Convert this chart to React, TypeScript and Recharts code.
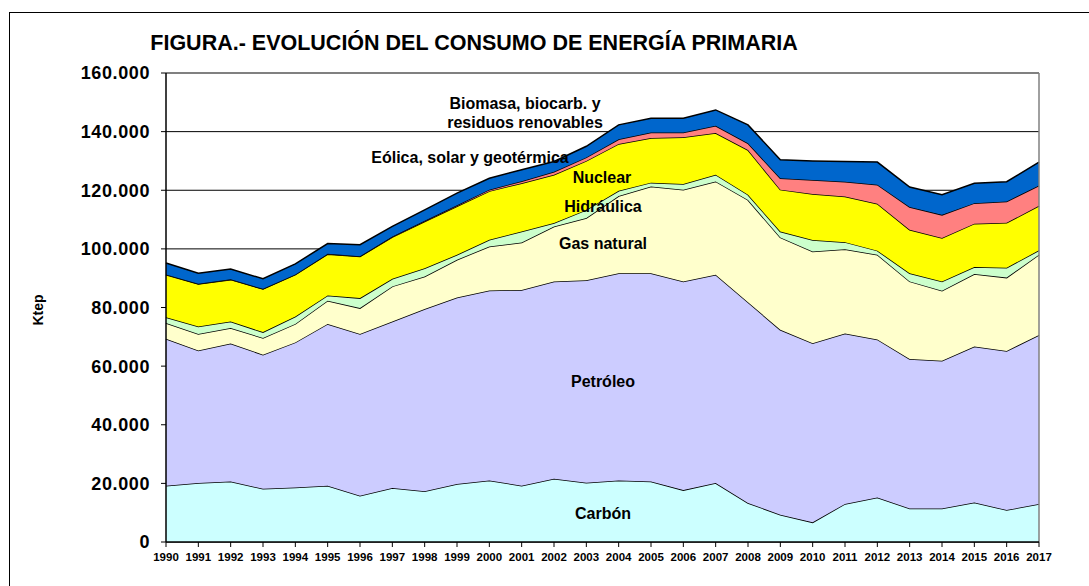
import React from 'react';
import { AreaChart, Area, XAxis, YAxis, CartesianGrid, ReferenceLine } from 'recharts';

// valores en ktep
const years = ['1990', '1991', '1992', '1993', '1994', '1995', '1996', '1997', '1998', '1999', '2000', '2001', '2002', '2003', '2004', '2005', '2006', '2007', '2008', '2009', '2010', '2011', '2012', '2013', '2014', '2015', '2016', '2017'];
const carbon = [19200, 20100, 20600, 18200, 18600, 19200, 15800, 18400, 17300, 19800, 21000, 19200, 21600, 20200, 21000, 20600, 17700, 20100, 13300, 9300, 6700, 13000, 15200, 11400, 11400, 13500, 10900, 13000];
const petroleo = [50100, 45200, 47100, 45700, 49500, 55200, 55200, 56800, 62200, 63600, 64800, 66800, 67300, 69100, 70700, 71100, 71200, 71100, 68500, 63100, 61100, 58100, 53900, 51000, 50400, 53200, 54300, 57600];
const gas = [5400, 5700, 5300, 5700, 6300, 7900, 8800, 12000, 11100, 12900, 15000, 16200, 18700, 21200, 26300, 29600, 31300, 31800, 34900, 31500, 31300, 28800, 28900, 26500, 23900, 24700, 25000, 27400];
const hidraulica = [2000, 2500, 2200, 2000, 2500, 1800, 3400, 2600, 2800, 1700, 2300, 3700, 1200, 2800, 1800, 1300, 1900, 2300, 1800, 2000, 3900, 2400, 1400, 2800, 3200, 2400, 3400, 1500];
const nuclear = [14500, 14500, 14300, 14700, 14300, 14100, 14200, 14200, 15900, 16500, 16600, 16500, 16500, 16700, 16000, 15200, 16000, 14200, 15200, 14300, 15700, 15600, 16000, 14800, 14800, 14800, 15300, 15200];
const eolica = [100, 100, 100, 100, 100, 100, 100, 200, 300, 400, 500, 700, 1000, 1200, 1600, 1900, 1600, 2500, 2300, 3900, 4800, 5000, 6500, 7800, 7900, 7000, 7300, 6900];
const biomasa = [3900, 3600, 3500, 3400, 3600, 3500, 3900, 3500, 3700, 4100, 3900, 3900, 3500, 3800, 4900, 4900, 4900, 5400, 6300, 6300, 6500, 6900, 7700, 6800, 6900, 6800, 6700, 8000];
const yTicks = [0, 20000, 40000, 60000, 80000, 100000, 120000, 140000, 160000];

const data = years.map((year, i) => ({
  year,
  carbon: carbon[i],
  petroleo: petroleo[i],
  gas: gas[i],
  hidraulica: hidraulica[i],
  nuclear: nuclear[i],
  eolica: eolica[i],
  biomasa: biomasa[i],
}));

const series = [
  { key: 'carbon', fill: '#CCFFFF' },
  { key: 'petroleo', fill: '#CCCCFF' },
  { key: 'gas', fill: '#FFFFCC' },
  { key: 'hidraulica', fill: '#CCFFCC' },
  { key: 'nuclear', fill: '#FFFF00' },
  { key: 'eolica', fill: '#FF8080' },
  { key: 'biomasa', fill: '#0066CC' },
];

const FONT = '"Liberation Sans", Arial, sans-serif';

const fmt = (v: number) => (v === 0 ? '0' : String(v).replace(/\B(?=(\d{3})+(?!\d))/g, '.'));

const labels = [
  { text: 'Biomasa, biocarb. y', x: 525, y: 103 },
  { text: 'residuos renovables', x: 525, y: 122 },
  { text: 'Eólica, solar y geotérmica', x: 470, y: 157 },
  { text: 'Nuclear', x: 602, y: 177 },
  { text: 'Hidráulica', x: 603, y: 206 },
  { text: 'Gas natural', x: 603, y: 243 },
  { text: 'Petróleo', x: 603, y: 381 },
  { text: 'Carbón', x: 603, y: 513 },
];

export default function App() {
  return (
    <div style={{ position: 'absolute', left: 0, top: 0, width: 1089, height: 586, background: '#fff', fontFamily: FONT }}>
      <div style={{ position: 'absolute', left: 9, top: 12, width: 1100, height: 600, borderLeft: '1.5px solid #000', borderTop: '1.5px solid #000' }} />
      <AreaChart
        width={1089}
        height={586}
        data={data}
        margin={{ top: 73, right: 50, bottom: 0, left: 0 }}
        style={{ position: 'absolute', left: 0, top: 0 }}
      >
        <CartesianGrid vertical={false} stroke="#000" strokeWidth={1} />
        <XAxis
          dataKey="year"
          interval={0}
          height={44}
          tickSize={5}
          tickMargin={6}
          axisLine={{ stroke: '#000', strokeWidth: 1.5 }}
          tickLine={{ stroke: '#000' }}
          tick={{ fill: '#000', fontSize: 11.5, fontWeight: 700, fontFamily: FONT }}
        />
        <YAxis
          width={166}
          domain={[0, 160000]}
          ticks={yTicks}
          tickFormatter={fmt}
          tickSize={5}
          tickMargin={11}
          axisLine={{ stroke: '#000', strokeWidth: 1.5 }}
          tickLine={{ stroke: '#000' }}
          tick={{ fill: '#000', fontSize: 18, fontWeight: 700, fontFamily: FONT, letterSpacing: 0.6 }}
        />
        {series.map((s) => (
          <Area
            key={s.key}
            dataKey={s.key}
            stackId="1"
            type="linear"
            stroke="#000"
            strokeWidth={1.5}
            fill={s.fill}
            fillOpacity={1}
            isAnimationActive={false}
          />
        ))}
        <ReferenceLine y={160000} stroke="#808080" strokeWidth={1.5} />
        <ReferenceLine x="2017" stroke="#808080" strokeWidth={1.5} />
      </AreaChart>
      <svg width={1089} height={586} style={{ position: 'absolute', left: 0, top: 0, pointerEvents: 'none' }}>
        <text x={474} y={43} textAnchor="middle" dominantBaseline="central" fontSize={21.5} fontWeight={700} fontFamily={FONT} fill="#000">
          FIGURA.- EVOLUCIÓN DEL CONSUMO DE ENERGÍA PRIMARIA
        </text>
        <text x={38} y={310} transform="rotate(-90 38 310)" textAnchor="middle" dominantBaseline="central" fontSize={14} fontWeight={700} fontFamily={FONT} fill="#000">
          Ktep
        </text>
        {labels.map((l) => (
          <text key={l.text} x={l.x} y={l.y} textAnchor="middle" dominantBaseline="central" fontSize={16} fontWeight={700} fontFamily={FONT} fill="#000">
            {l.text}
          </text>
        ))}
      </svg>
    </div>
  );
}
